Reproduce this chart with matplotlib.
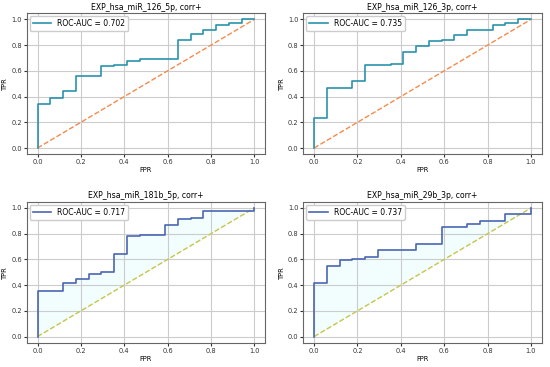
import matplotlib
matplotlib.use("Agg")
import matplotlib.pyplot as plt
import numpy as np

# --- DATA ---
titles = ["EXP_hsa_miR_126_5p, corr+", "EXP_hsa_miR_126_3p, corr+",
          "EXP_hsa_miR_181b_5p, corr+", "EXP_hsa_miR_29b_3p, corr+"]
aucs = [0.702, 0.735, 0.717, 0.737]

# FPR steps are multiples of 1/17
fpr_126_5p = [0, 0, 1, 2, 3, 5, 6, 7, 8, 11, 12, 13, 14, 15, 16, 17]
tpr_126_5p = [0, 0.34, 0.39, 0.44, 0.56, 0.635, 0.645, 0.68, 0.695, 0.84, 0.89, 0.915, 0.96, 0.975, 1.0, 1.0]

fpr_126_3p = [0, 0, 1, 3, 4, 6, 7, 8, 9, 10, 11, 12, 14, 15, 16, 17]
tpr_126_3p = [0, 0.23, 0.465, 0.525, 0.645, 0.655, 0.745, 0.79, 0.83, 0.84, 0.875, 0.915, 0.96, 0.975, 1.0, 1.0]

fpr_181b_5p = [0, 0, 2, 3, 4, 5, 6, 7, 8, 10, 11, 12, 13, 17, 17]
tpr_181b_5p = [0, 0.355, 0.415, 0.45, 0.485, 0.50, 0.645, 0.78, 0.79, 0.865, 0.915, 0.925, 0.975, 0.975, 1.0]

fpr_29b_3p = [0, 0, 1, 2, 3, 4, 5, 8, 10, 12, 13, 15, 17, 17]
tpr_29b_3p = [0, 0.415, 0.545, 0.595, 0.605, 0.62, 0.67, 0.72, 0.855, 0.875, 0.90, 0.95, 0.95, 1.0]

fprs = [fpr_126_5p, fpr_126_3p, fpr_181b_5p, fpr_29b_3p]
tprs = [tpr_126_5p, tpr_126_3p, tpr_181b_5p, tpr_29b_3p]

line_colors = ["#2a93ad", "#2a93ad", "#4a66b3", "#4a66b3"]
diag_colors = ["#f58a4c", "#f58a4c", "#c9c44a", "#c9c44a"]

fig, axes = plt.subplots(2, 2, figsize=(5.5, 3.67), dpi=100)
fig.subplots_adjust(left=0.0485, right=0.985, top=0.9646, bottom=0.0654,
                    wspace=0.16, hspace=0.333)

for i, ax in enumerate(axes.flat):
    x = np.array(fprs[i]) / 17.0
    y = np.array(tprs[i])
    if i >= 2:
        # faint shading between the ROC step curve and the chance line
        xs = np.linspace(0, 1, 800)
        idx = np.searchsorted(x, xs, side="right") - 1
        ys = y[np.clip(idx, 0, len(y) - 1)]
        ax.fill_between(xs, ys, xs, where=ys > xs, color="#f2fdfd", lw=0)
    ax.plot([0, 1], [0, 1], linestyle="--", color=diag_colors[i], lw=1.0)
    ax.step(x, y, where="post", color=line_colors[i], lw=1.2,
            label=f"ROC-AUC = {aucs[i]:.3f}")
    ax.set_title(titles[i], fontsize=5.6, pad=2.5)
    ax.set_xlabel("FPR", fontsize=4.8, labelpad=1.5)
    ax.set_ylabel("TPR", fontsize=4.8, labelpad=2)
    ax.set_xticks([0, 0.2, 0.4, 0.6, 0.8, 1.0])
    ax.set_yticks([0, 0.2, 0.4, 0.6, 0.8, 1.0])
    ax.tick_params(labelsize=4.8, length=2, pad=1.5, colors="#333333")
    ax.grid(True, color="#cccccc", lw=0.8)
    for s in ax.spines.values():
        s.set_color("#666666")
    ax.legend(loc="upper left", fontsize=5.5, handlelength=2.4,
              borderaxespad=0.4, framealpha=1.0, edgecolor="#cccccc")

fig.savefig("out.png", dpi=100)
